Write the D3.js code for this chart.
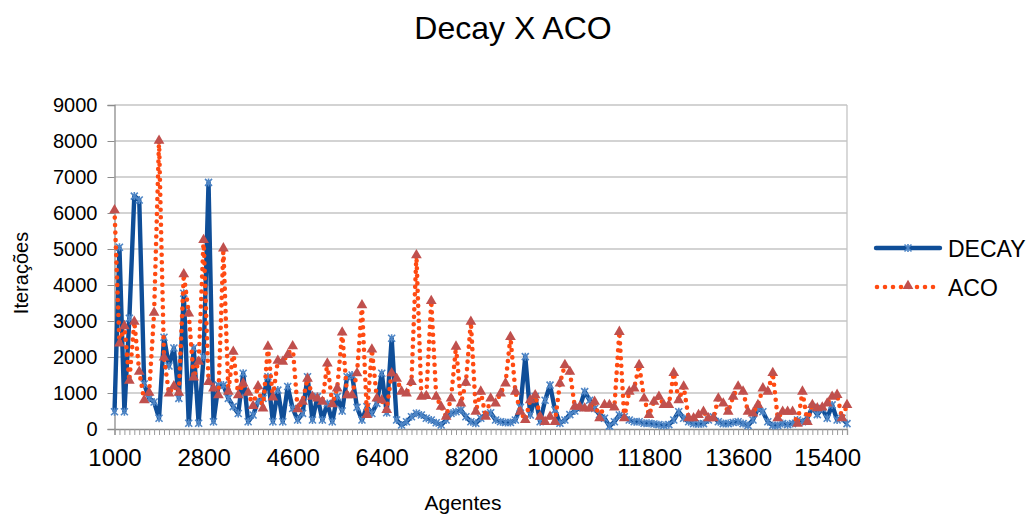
<!DOCTYPE html>
<html>
<head>
<meta charset="utf-8">
<script src="https://cdn.jsdelivr.net/npm/d3@7"></script>
<style>
  html, body { margin: 0; padding: 0; background: #ffffff; }
  svg { display: block; }
  text { font-family: "Liberation Sans", Arial, sans-serif; fill: #000; }
</style>
</head>
<body>
<svg id="chart" width="1032" height="514"></svg>
<script>
// ---- data ----
const agentes = d3.range(149).map(i => 1000 + i * 100); // category labels 1000..15800
const tickLabels = ["1000","2800","4600","6400","8200","10000","11800","13600","15400"];
const yTicks = [0,1000,2000,3000,4000,5000,6000,7000,8000,9000];

const decay = [
  480,5050,480,3075,6470,6360,1250,850,750,300,
  2550,1750,2250,850,3770,160,2250,160,2000,6850,
  200,1220,1220,850,620,430,1550,200,390,760,
  850,1450,200,1080,200,1180,570,250,435,1450,
  250,900,250,710,200,900,500,1450,1500,600,
  250,620,430,710,1550,450,2520,250,110,200,
  340,435,390,300,250,175,110,250,435,480,
  530,340,200,160,300,400,450,250,200,180,
  180,250,600,2010,390,900,200,800,1220,530,
  160,250,400,500,600,1040,800,570,400,300,
  80,200,390,340,250,200,200,160,160,140,
  120,100,120,250,480,300,200,150,140,150,
  250,340,200,150,150,180,200,150,100,250,
  570,480,200,100,100,150,120,150,250,200,
  300,600,400,570,300,670,250,300,150
];
const aco = [
  6080,2380,2860,1340,2980,1590,800,1010,3230,8010,
  1990,990,1190,1010,4300,3210,1430,1870,5250,1310,
  1130,940,5020,1040,2150,940,1270,1010,640,1190,
  570,2290,880,1900,1870,2060,2300,550,760,1400,
  900,850,760,1820,690,1130,2680,940,940,1550,
  3440,390,2210,850,800,530,1550,1400,1040,990,
  1310,4830,900,920,3560,900,620,340,850,2290,
  710,1290,2980,480,1040,340,850,710,990,1270,
  2560,1040,480,250,800,940,340,200,340,200,
  1270,1780,1590,620,620,570,570,760,300,670,
  670,600,2700,300,1040,1130,1780,850,390,760,
  900,670,670,1560,800,1180,300,300,390,480,
  300,300,850,710,480,900,1180,1040,480,430,
  670,1130,1040,1560,300,480,480,480,150,1040,
  200,670,580,600,710,900,950,300,670
];
const seriesNames = ["DECAY","ACO"];

// ---- layout ----
const svg = d3.select("#chart");
const pLeft = 114.5, pRight = 847, pTop = 105, pBottom = 429;

const x = d3.scalePoint().domain(agentes).range([pLeft, pRight]).padding(0);
const y = d3.scaleLinear().domain([0, 9000]).range([pBottom, pTop]);

// gridlines
svg.append("g").selectAll("line").data(yTicks.slice(1)).join("line")
  .attr("x1", pLeft).attr("x2", pRight)
  .attr("y1", d => y(d)).attr("y2", d => y(d))
  .attr("stroke", "#c4c4c4").attr("stroke-width", 1.3);

// plot border right
svg.append("line").attr("x1", pRight).attr("x2", pRight).attr("y1", pTop).attr("y2", pBottom)
  .attr("stroke", "#c4c4c4").attr("stroke-width", 1.3);

// y axis
const yAxis = d3.axisLeft(y).tickValues(yTicks).tickSize(7).tickPadding(10).tickFormat(d3.format("d"));
const gy = svg.append("g").attr("transform", `translate(${pLeft},0)`).call(yAxis);
gy.select(".domain").attr("stroke", "#8c8c8c").attr("stroke-width", 1.3);
gy.selectAll(".tick line").attr("stroke", "#8c8c8c");
gy.selectAll("text").style("font-size", "20px").style("font-family", "'Liberation Sans', Arial, sans-serif").attr("fill", "#000");

// x axis
const xAxis = d3.axisBottom(x).tickSize(6).tickPadding(14)
  .tickFormat(d => tickLabels.includes(String(d)) ? String(d) : "");
const gx = svg.append("g").attr("transform", `translate(0,${pBottom})`).call(xAxis);
gx.select(".domain").attr("stroke", "#8c8c8c").attr("stroke-width", 1.3);
gx.selectAll(".tick line").attr("stroke", "#9a9a9a");
gx.selectAll("text").style("font-size", "24px").style("font-family", "'Liberation Sans', Arial, sans-serif").attr("fill", "#000");

// lines
const line = d3.line().x((d, i) => x(agentes[i])).y(d => y(d));

svg.append("path").datum(decay)
  .attr("d", line).attr("fill", "none")
  .attr("stroke", "#0f4e98").attr("stroke-width", 4.4).attr("stroke-linejoin", "round");

// decay markers (x star)
const starPath = "M-3.5,-3.5L3.5,3.5M-3.5,3.5L3.5,-3.5M0,-4L0,4";
svg.append("g").selectAll("path").data(decay).join("path")
  .attr("transform", (d, i) => `translate(${x(agentes[i])},${y(d)})`)
  .attr("d", starPath).attr("stroke", "#4f86c6").attr("stroke-width", 1.6).attr("fill", "none");

svg.append("path").datum(aco)
  .attr("d", line).attr("fill", "none")
  .attr("stroke", "#ff4a12").attr("stroke-width", 4.6)
  .attr("stroke-dasharray", "0 7.5").attr("stroke-linecap", "round");

const tri = d3.symbol().type(d3.symbolTriangle).size(50);
svg.append("g").selectAll("path").data(aco).join("path")
  .attr("transform", (d, i) => `translate(${x(agentes[i])},${y(d)})`)
  .attr("d", tri).attr("fill", "#c0504d");

// title
svg.append("text").attr("x", 513).attr("y", 39).attr("text-anchor", "middle")
  .style("font-size", "32px").text("Decay X ACO");

// axis titles
svg.append("text").attr("x", 463).attr("y", 510).attr("text-anchor", "middle")
  .style("font-size", "21px").text("Agentes");
svg.append("text").attr("transform", "translate(28,273) rotate(-90)").attr("text-anchor", "middle")
  .style("font-size", "20px").text("Iterações");

// legend
const lg = svg.append("g");
lg.append("line").attr("x1", 876).attr("x2", 940).attr("y1", 248).attr("y2", 248)
  .attr("stroke", "#0f4e98").attr("stroke-width", 4.4).attr("stroke-linecap", "round");
lg.append("path").attr("transform", "translate(908,248)").attr("d", starPath)
  .attr("stroke", "#4f86c6").attr("stroke-width", 1.6);
lg.append("text").attr("x", 948).attr("y", 257).style("font-size", "23px").text(seriesNames[0]);

lg.append("line").attr("x1", 877).attr("x2", 938).attr("y1", 287).attr("y2", 287)
  .attr("stroke", "#ff4a12").attr("stroke-width", 4.6)
  .attr("stroke-dasharray", "0 8").attr("stroke-linecap", "round");
lg.append("path").attr("transform", "translate(908,286)").attr("d", tri).attr("fill", "#c0504d");
lg.append("text").attr("x", 948).attr("y", 296).style("font-size", "23px").text(seriesNames[1]);
</script>
</body>
</html>
